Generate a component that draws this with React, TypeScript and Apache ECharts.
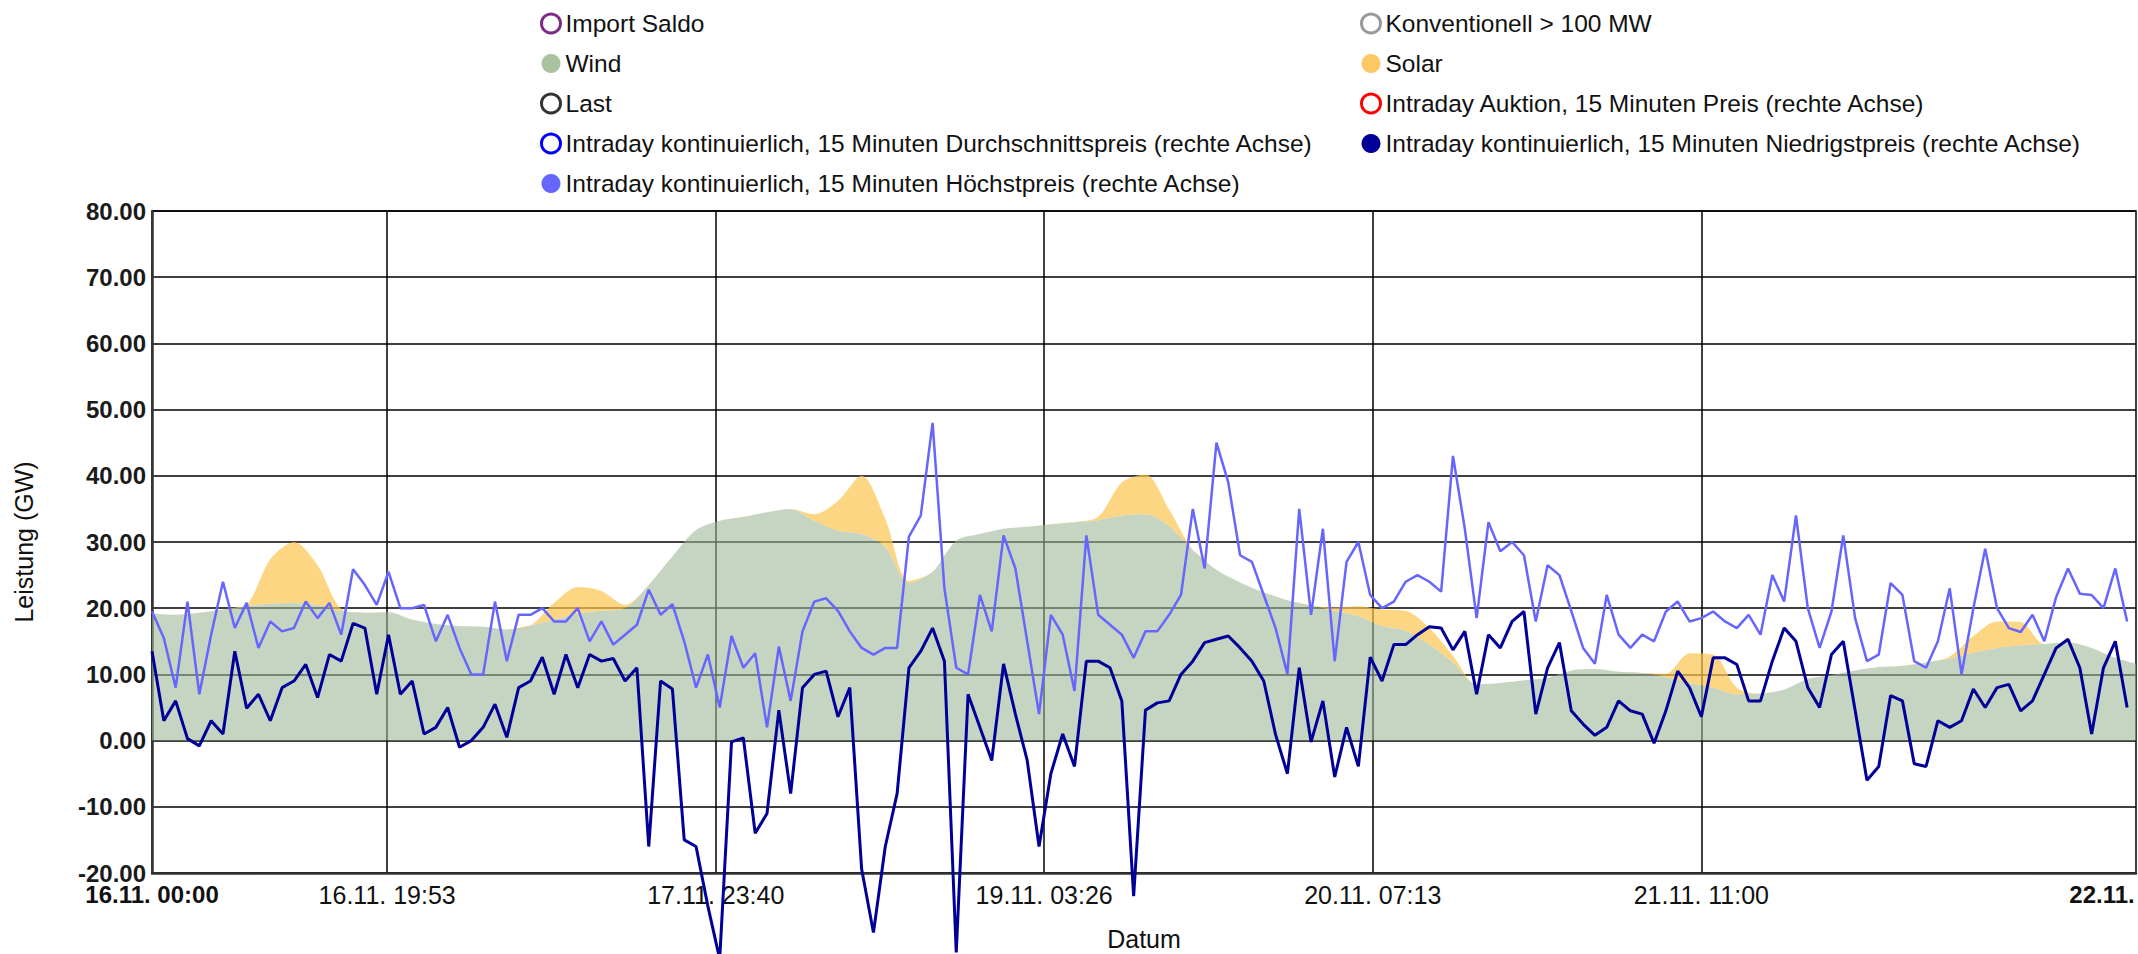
import React, { useEffect, useRef } from "react";
import * as echarts from "echarts";

// ---------- data (x in hours from 16.11. 00:00) ----------
// Wind, every 2 hours (GW)
const windGW = [
  19.2, 19.0, 19.3, 19.8, 20.3, 20.7, 20.8, 20.5, 19.6, 19.3,
  19.4, 18.3, 17.6, 17.3, 17.2, 16.8, 17.4, 18.3, 19.2, 19.6,
  20.0, 23.5, 27.8, 31.8, 33.2, 33.8, 34.5, 35.0, 33.2, 31.7,
  31.2, 29.3, 23.8, 25.5, 30.2, 31.2, 32.0, 32.3, 32.7, 33.0,
  33.3, 34.0, 34.2, 32.4, 28.8, 25.8, 23.9, 22.4, 21.2, 20.4,
  19.6, 18.8, 17.3, 16.6, 14.5, 11.8, 8.5, 8.7, 9.1, 9.5,
  10.6, 10.8, 10.4, 10.2, 9.6, 8.7, 8.0, 7.0, 7.1, 7.7,
  9.3, 9.9, 10.6, 11.1, 11.3, 11.8, 12.4, 13.3, 14.0, 14.4,
  14.6, 14.8, 14.0, 12.5, 11.5,
];
const windStepH = 2;

// Solar, every 2 hours (GW)
const solarGW = [
  0, 0, 0, 0, 0.2, 6.7, 9.2, 6.0, 0.3,
  0, 0, 0, 0, 0, 0, 0, 0,
  2.5, 4.0, 3.0, 0.5,
  0, 0, 0, 0, 0, 0, 0,
  1.0, 4.5, 8.8, 4.2, 0.3,
  0, 0, 0, 0, 0, 0, 0,
  0.5, 5.0, 6.0, 2.5, 0,
  0, 0, 0, 0, 0,
  0.5, 1.5, 2.5, 3.0, 2.5, 1.0, 0,
  0, 0, 0, 0, 0, 0, 0,
  0.5, 4.5, 5.0, 1.0, 0,
  0, 0, 0, 0, 0, 0, 0,
  0.3, 2.5, 4.0, 3.5, 0,
  0, 0, 0, 0,
];
const solarStepH = 2;

// Intraday kontinuierlich, 15 Minuten Höchstpreis (hourly readings)
const priceHigh = [
  19.5, 15.5, 8, 21, 7, 16, 24, 17, 20.8, 14, 18, 16.5, 17, 21, 18.5, 20.8, 16, 25.9, 23.5, 20.5,
  25.5, 20, 20, 20.5, 15, 19, 14, 10, 10, 21, 12, 19, 19, 20, 18, 18,
  20, 15, 18, 14.5, 16, 17.5, 22.8, 19, 20.6, 15, 8, 13, 5, 15.8, 11, 13.2, 2, 14.2, 6, 16.5,
  21, 21.5, 19.6, 16.5, 14, 13, 14, 14, 30.8, 34, 48, 23, 11, 10, 22,
  16.5, 31, 26, 15, 4, 19, 16, 7.5, 31, 19, 17.5, 16, 12.5, 16.5, 16.5, 19, 22, 35, 26, 45,
  39, 28, 27, 22, 17, 10, 35, 19, 32, 12, 27, 30, 22,
  20, 21, 24, 25, 24, 22.5, 43, 32, 18.5, 33, 28.6, 30, 28, 18, 26.5, 25, 19.6, 14, 11.6, 22,
  16, 14, 16, 15, 19.5, 21, 18, 18.5, 19.5, 18, 17, 19, 16, 25, 21, 34,
  20, 14, 19.5, 31, 18.5, 12, 13, 23.8, 22, 12, 11, 15, 23, 10, 20, 29, 20, 17, 16.4, 19,
  15, 21.7, 26, 22.2, 22, 20, 26, 18,
];

// Intraday kontinuierlich, 15 Minuten Niedrigstpreis (hourly readings)
const priceLow = [
  13.5, 3, 6, 0.3, -0.8, 3, 1, 13.5, 4.9, 7, 3, 8, 9, 11.5, 6.5, 13, 12, 17.7, 17, 7,
  16, 7, 9, 1, 2, 5, -1, 0, 2, 5.5, 0.5, 8, 9, 12.6, 7, 13,
  8, 13, 12, 12.4, 9, 11, -16, 9, 7.8, -15, -16, -25, -33, -0.2, 0.4, -14, -11, 4.6, -8, 8,
  10, 10.5, 3.6, 8, -19.4, -29, -16, -8, 11, 13.5, 17, 12, -32, 7, 2,
  -3, 11.6, 4, -3, -16, -5, 1, -3.9, 12, 12, 11, 6, -23.5, 4.6, 5.7, 6, 10, 12, 14.8, 15.3,
  15.8, 14, 12, 9, 0.9, -5, 11, -0.2, 6, -5.5, 2, -3.9, 12.6, 9,
  14.5, 14.5, 16, 17.2, 17, 13.7, 16.5, 7, 16, 14, 18, 19.5, 4, 11, 14.8, 4.5, 2.5, 0.8, 2, 6,
  4.5, 4, -0.4, 4.5, 10.5, 8, 3.6, 12.5, 12.5, 11.5, 6, 6, 12, 17, 15,
  8, 5, 13, 15, 4.6, -6, -3.9, 6.8, 6, -3.5, -3.9, 3, 2, 3, 7.8, 5, 8, 8.5, 4.5, 6,
  10, 14, 15.3, 11, 1, 11, 15, 5,
];
const priceStepH = 1;

const xMaxH = 167.75;
const gridLineHours = [19.8833, 47.6667, 75.4333, 103.2167, 131];
const xLabelHours = [0, 19.8833, 47.6667, 75.4333, 103.2167, 131, 167.75];
const xLabelTexts = [
  "16.11. 00:00",
  "16.11. 19:53",
  "17.11. 23:40",
  "19.11. 03:26",
  "20.11. 07:13",
  "21.11. 11:00",
  "22.11. 23:45",
];

const legendLeft = [
  { name: "Import Saldo", fill: "#ffffff", stroke: "#7e2a86" },
  { name: "Wind", fill: "#a9c3a0", stroke: null },
  { name: "Last", fill: "#ffffff", stroke: "#333333" },
  { name: "Intraday kontinuierlich, 15 Minuten Durchschnittspreis (rechte Achse)", fill: "#ffffff", stroke: "#0000ff" },
  { name: "Intraday kontinuierlich, 15 Minuten Höchstpreis (rechte Achse)", fill: "#6666ff", stroke: null },
];
const legendRight = [
  { name: "Konventionell > 100 MW", fill: "#ffffff", stroke: "#999999" },
  { name: "Solar", fill: "#fdc965", stroke: null },
  { name: "Intraday Auktion, 15 Minuten Preis (rechte Achse)", fill: "#ffffff", stroke: "#ff0000" },
  { name: "Intraday kontinuierlich, 15 Minuten Niedrigstpreis (rechte Achse)", fill: "#000099", stroke: null },
];

const FONT = "'Liberation Sans', Arial, Helvetica, sans-serif";

// [x, y] pairs for the price lines
function toPairs(values: number[], step: number) {
  return values.map((v, i) => [i * step, v]);
}
// [y, x] rows for the stacked areas (value first so that ECharts stacks the y dimension)
function toStackRows(values: number[], step: number) {
  return values.map((v, i) => [v, i * step]);
}

function legendData(items: { name: string; fill: string; stroke: string | null }[]) {
  return items.map((it) => ({
    name: it.name,
    icon: "circle",
    itemStyle: it.stroke
      ? { color: it.fill, borderColor: it.stroke, borderWidth: 3 }
      : { color: it.fill, borderWidth: 0 },
  }));
}

export default function App() {
  const ref = useRef<HTMLDivElement>(null);

  useEffect(() => {
    if (!ref.current) return;
    const chart = echarts.init(ref.current, null, { renderer: "svg" });

    const legendCommon = {
      orient: "vertical",
      align: "left",
      top: 11,
      padding: 0,
      itemWidth: 19,
      itemHeight: 19,
      itemGap: 15,
      selectedMode: false,
      textStyle: { fontFamily: FONT, fontSize: 24.5, color: "#111111" },
    };

    const emptyLine = (name: string, color: string) => ({
      name,
      type: "line",
      data: [],
      color,
      showSymbol: false,
    });

    const gridLineStyle = { color: "#000000", width: 1.5 };

    const option: any = {
      animation: false,
      backgroundColor: "#ffffff",
      textStyle: { fontFamily: FONT },
      legend: [
        { ...legendCommon, left: 540, data: legendData(legendLeft) },
        { ...legendCommon, left: 1360, data: legendData(legendRight) },
      ],
      grid: {
        left: 152,
        right: 2,
        top: 211,
        bottom: 81,
        show: true,
        borderColor: "#000000",
        borderWidth: 1.5,
        containLabel: false,
        outerBoundsMode: "none",
      },
      xAxis: {
        type: "value",
        min: 0,
        max: xMaxH,
        name: "Datum",
        nameLocation: "middle",
        nameGap: 53,
        nameTextStyle: { fontFamily: FONT, fontSize: 25, color: "#111111" },
        axisLine: { show: true, onZero: false, lineStyle: { color: "#333333", width: 2.5 } },
        axisTick: { show: false, customValues: gridLineHours },
        splitLine: { show: true, lineStyle: gridLineStyle },
        axisLabel: {
          customValues: xLabelHours,
          margin: 9,
          fontFamily: FONT,
          fontSize: 25,
          color: "#111111",
          formatter: (v: number) => {
            let best = 0;
            for (let i = 1; i < xLabelHours.length; i++) {
              if (Math.abs(xLabelHours[i] - v) < Math.abs(xLabelHours[best] - v)) best = i;
            }
            const t = xLabelTexts[best];
            return best === 0 || best === xLabelHours.length - 1 ? `{b|${t}}` : t;
          },
          rich: {
            b: { fontFamily: FONT, fontSize: 24, fontWeight: "bold", color: "#111111" },
          },
        },
      },
      yAxis: [
        {
          type: "value",
          min: -20,
          max: 80,
          interval: 10,
          name: "Leistung (GW)",
          nameLocation: "middle",
          nameGap: 116,
          nameTextStyle: { fontFamily: FONT, fontSize: 25, color: "#111111" },
          axisLine: { show: true, onZero: false, lineStyle: { color: "#333333", width: 2.5 } },
          axisTick: { show: false },
          axisLabel: {
            margin: 6,
            fontFamily: FONT,
            fontSize: 24,
            fontWeight: "bold",
            color: "#1a1a1a",
            formatter: (v: number) => v.toFixed(2),
          },
          splitLine: { show: true, lineStyle: gridLineStyle },
        },
        {
          type: "value",
          min: -20,
          max: 80,
          interval: 10,
          show: false,
          splitLine: { show: false },
        },
      ],
      series: [
        emptyLine("Import Saldo", "#7e2a86"),
        emptyLine("Konventionell > 100 MW", "#999999"),
        {
          name: "Wind",
          type: "line",
          stack: "erzeugung",
          data: toStackRows(windGW, windStepH),
          encode: { x: 1, y: 0 },
          smooth: 0.3,
          showSymbol: false,
          color: "#a9c3a0",
          lineStyle: { width: 0 },
          areaStyle: { color: "rgba(156,182,148,0.58)", opacity: 1 },
        },
        {
          name: "Solar",
          type: "line",
          stack: "erzeugung",
          data: toStackRows(solarGW, solarStepH),
          encode: { x: 1, y: 0 },
          smooth: 0.3,
          showSymbol: false,
          color: "#fdc965",
          lineStyle: { width: 0 },
          areaStyle: { color: "rgba(252,196,80,0.7)", opacity: 1 },
        },
        emptyLine("Last", "#333333"),
        emptyLine("Intraday Auktion, 15 Minuten Preis (rechte Achse)", "#ff0000"),
        emptyLine("Intraday kontinuierlich, 15 Minuten Durchschnittspreis (rechte Achse)", "#0000ff"),
        {
          name: "Intraday kontinuierlich, 15 Minuten Niedrigstpreis (rechte Achse)",
          type: "line",
          yAxisIndex: 1,
          data: toPairs(priceLow, priceStepH),
          showSymbol: false,
          clip: false,
          color: "#000099",
          lineStyle: { width: 3, color: "#000099" },
        },
        {
          name: "Intraday kontinuierlich, 15 Minuten Höchstpreis (rechte Achse)",
          type: "line",
          yAxisIndex: 1,
          data: toPairs(priceHigh, priceStepH),
          showSymbol: false,
          clip: false,
          color: "#6666ff",
          lineStyle: { width: 2.5, color: "#6666ff" },
        },
      ],
    };

    chart.setOption(option);
    return () => chart.dispose();
  }, []);

  return (
    <div
      ref={ref}
      style={{ position: "fixed", left: 0, top: 0, width: 2138, height: 954, background: "#ffffff" }}
    />
  );
}
